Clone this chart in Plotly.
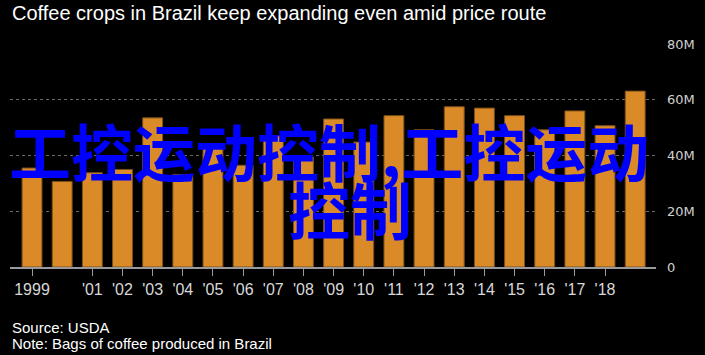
import plotly.graph_objects as go

years = list(range(1999, 2020))
bags_millions = [35.5, 30.7, 33.8, 35.0, 53.5, 33.2, 43.5, 36.5, 47.0, 39.5,
                 53.1, 44.8, 54.3, 49.2, 57.5, 57.0, 54.3, 49.2, 56.0, 50.7, 63.1]
x_tick_vals = [1999] + list(range(2001, 2019))
x_tick_text = ["1999"] + ["'%02d" % (y % 100) for y in range(2001, 2019)]
y_tick_vals = [0, 20, 40, 60, 80]
y_tick_text = ["0", "20M", "40M", "60M", "80M"]

title = "Coffee crops in Brazil keep expanding even amid price route"
source = "Source: USDA"
note = "Note: Bags of coffee produced in Brazil"
watermark1 = "工控运动控制,工控运动"
watermark2 = "控制"

W, H = 705, 355
L, R, T, B = 10, W - 659, 44, H - 267
pw, ph = W - L - R, H - T - B

def px(x):
    return (x - L) / pw

def py(y):
    return (H - B - y) / ph

narrow = "Liberation Sans Narrow, Arial Narrow, Liberation Sans, sans-serif"

fig = go.Figure(go.Bar(
    x=years, y=bags_millions,
    marker=dict(color="#DA8A26", line=dict(color="#7a4f1c", width=1)),
    width=0.66,
))

fig.update_layout(
    width=W, height=H,
    margin=dict(l=L, r=R, t=T, b=B),
    paper_bgcolor="black", plot_bgcolor="black",
    showlegend=False,
    font=dict(family=narrow, color="#dddddd"),
    xaxis=dict(
        range=[1998.27, 2019.69],
        tickvals=x_tick_vals, ticktext=x_tick_text,
        showgrid=False, zeroline=False,
        showline=True, linecolor="#9a9a9a", linewidth=2,
        ticks="outside", ticklen=7, tickcolor="#9a9a9a", tickwidth=1,
        tickfont=dict(family=narrow, size=16, color="#d8d8d8"),
    ),
    yaxis=dict(
        range=[0, 80], side="right",
        tickvals=y_tick_vals, ticktext=y_tick_text,
        showgrid=True, gridcolor="#6a6a6a", griddash="dot", gridwidth=1,
        zeroline=False, showline=False, ticks="",
        ticklabelstandoff=10,
        tickfont=dict(family="DejaVu Sans, Verdana, sans-serif", size=13, color="#d0d0d0"),
    ),
    annotations=[
        dict(text=title, x=px(10), y=py(13), xref="paper", yref="paper",
             xanchor="left", yanchor="middle", showarrow=False,
             font=dict(family=narrow, size=20, color="#ffffff")),
        dict(text=source, x=px(10), y=py(327), xref="paper", yref="paper",
             xanchor="left", yanchor="middle", showarrow=False,
             font=dict(family=narrow, size=15, color="#ffffff")),
        dict(text=note, x=px(10), y=py(343), xref="paper", yref="paper",
             xanchor="left", yanchor="middle", showarrow=False,
             font=dict(family=narrow, size=15, color="#ffffff")),
        dict(text="<b>" + watermark1 + "</b>", x=px(330), y=py(150), xref="paper", yref="paper",
             xanchor="center", yanchor="middle", showarrow=False,
             font=dict(family="Noto Sans CJK SC", size=62, color="#0000ff")),
        dict(text="<b>" + watermark2 + "</b>", x=px(352), y=py(208), xref="paper", yref="paper",
             xanchor="center", yanchor="middle", showarrow=False,
             font=dict(family="Noto Sans CJK SC", size=62, color="#0000ff")),
    ],
)

fig.write_html("out.html", config={"displayModeBar": False},
               post_script="document.body.style.margin='0';")
